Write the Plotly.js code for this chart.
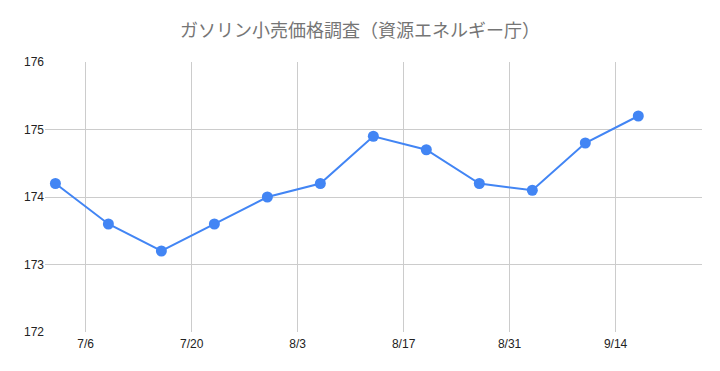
<!DOCTYPE html>
<html>
<head>
<meta charset="utf-8">
<script src="https://cdn.plot.ly/plotly-3.0.1.min.js"></script>
<style>html,body{margin:0;padding:0;background:#fff;}#chart{width:720px;height:371px;}</style>
</head>
<body>
<div id="chart"></div>
<script>
const dates = ["2025-07-02","2025-07-09","2025-07-16","2025-07-23","2025-07-30","2025-08-06","2025-08-13","2025-08-20","2025-08-27","2025-09-03","2025-09-10","2025-09-17"];
const prices = [174.2,173.6,173.2,173.6,174.0,174.2,174.9,174.7,174.2,174.1,174.8,175.2];
const tickVals = ["2025-07-06","2025-07-20","2025-08-03","2025-08-17","2025-08-31","2025-09-14"];
const tickText = ["7/6","7/20","8/3","8/17","8/31","9/14"];
const yTicks = [172,173,174,175,176];
const titleText = "ガソリン小売価格調査（資源エネルギー庁）";

const trace = {
  x: dates, y: prices, type: "scatter", mode: "lines+markers",
  line: {color: "#4285F4", width: 2},
  marker: {color: "#4285F4", size: 11},
  hoverinfo: "x+y"
};
const layout = {
  width: 720, height: 371,
  margin: {l: 45, r: 18, t: 62, b: 39},
  paper_bgcolor: "#fff", plot_bgcolor: "#fff",
  showlegend: false,
  title: {text: titleText, x: 0.5, xanchor: "center", y: 0.918, yanchor: "middle",
    font: {family: "Noto Sans CJK JP, sans-serif", size: 18, color: "#757575"}},
  xaxis: {
    type: "date", range: ["2025-06-30 15:00", "2025-09-25 10:00"],
    tickmode: "array", tickvals: tickVals, ticktext: tickText,
    showgrid: true, gridcolor: "#cccccc", gridwidth: 1,
    zeroline: false, showline: false, ticks: "", ticklabelstandoff: 3,
    tickfont: {family: "Liberation Sans, Arial, sans-serif", size: 12, color: "#222"}
  },
  yaxis: {
    range: [172, 176], tickmode: "array", tickvals: yTicks, ticktext: yTicks.map(String),
    showgrid: true, gridcolor: "#cccccc", gridwidth: 1,
    zeroline: false, showline: false, ticks: "",
    tickfont: {family: "Liberation Sans, Arial, sans-serif", size: 12, color: "#222"}
  }
};
Plotly.newPlot("chart", [trace], layout, {displayModeBar: false, staticPlot: true});
</script>
</body>
</html>
